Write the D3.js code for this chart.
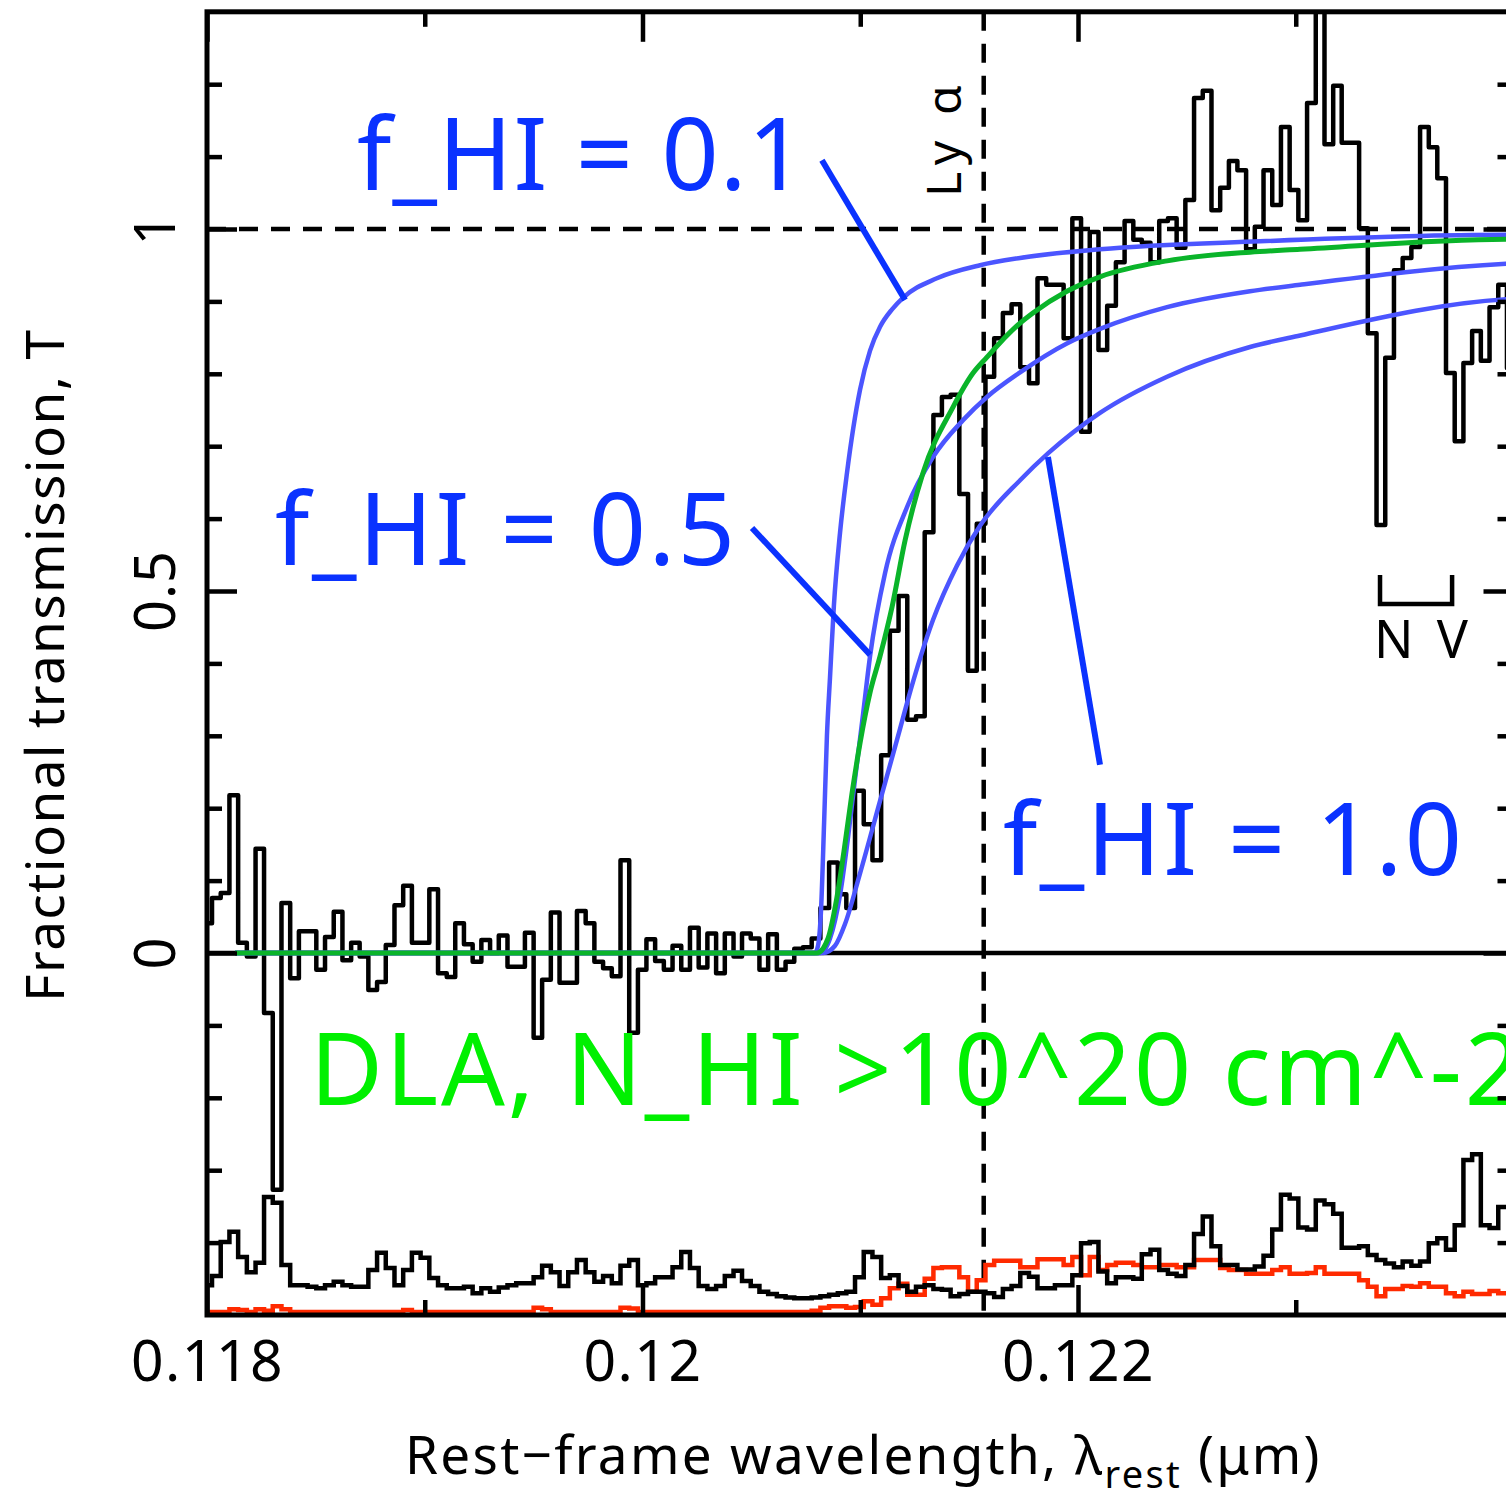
<!DOCTYPE html>
<html>
<head>
<meta charset="utf-8">
<script src="https://cdn.jsdelivr.net/npm/d3@7"></script>
<style>
html, body { margin: 0; padding: 0; background: #fff; overflow: hidden; }
svg { display: block; font-family: "Noto Sans", sans-serif; }
</style>
</head>
<body>
<svg id="chart" width="1506" height="1501"></svg>
<script>
'use strict';

// rest-frame wavelength of the spectrum bin edges, Angstrom
var binEdges = [
    1179.83, 1180.23, 1180.63, 1181.03, 1181.43, 1181.83, 1182.23, 1182.62, 1183.02, 1183.42,
    1183.82, 1184.22, 1184.62, 1185.02, 1185.42, 1185.82, 1186.22, 1186.62, 1187.01, 1187.41,
    1187.81, 1188.21, 1188.61, 1189.01, 1189.41, 1189.81, 1190.21, 1190.61, 1191.01, 1191.40,
    1191.80, 1192.20, 1192.60, 1193.00, 1193.40, 1193.80, 1194.20, 1194.60, 1195.00, 1195.39,
    1195.79, 1196.19, 1196.59, 1196.99, 1197.39, 1197.79, 1198.19, 1198.59, 1198.99, 1199.39,
    1199.79, 1200.18, 1200.58, 1200.98, 1201.38, 1201.78, 1202.18, 1202.58, 1202.98, 1203.38,
    1203.78, 1204.18, 1204.57, 1204.97, 1205.37, 1205.77, 1206.17, 1206.57, 1206.97, 1207.37,
    1207.77, 1208.17, 1208.57, 1208.97, 1209.36, 1209.76, 1210.16, 1210.56, 1210.96, 1211.36,
    1211.76, 1212.16, 1212.56, 1212.96, 1213.36, 1213.75, 1214.15, 1214.55, 1214.95, 1215.35,
    1215.75, 1216.15, 1216.55, 1216.95, 1217.35, 1217.75, 1218.14, 1218.54, 1218.94, 1219.34,
    1219.74, 1220.14, 1220.54, 1220.94, 1221.34, 1221.74, 1222.14, 1222.54, 1222.93, 1223.33,
    1223.73, 1224.13, 1224.53, 1224.93, 1225.33, 1225.73, 1226.13, 1226.53, 1226.93, 1227.32,
    1227.72, 1228.12, 1228.52, 1228.92, 1229.32, 1229.72, 1230.12, 1230.52, 1230.92, 1231.32,
    1231.72, 1232.11, 1232.51, 1232.91, 1233.31, 1233.71, 1234.11, 1234.51, 1234.91, 1235.31,
    1235.71, 1236.11, 1236.50, 1236.90, 1237.30, 1237.70, 1238.10, 1238.50, 1238.90, 1239.30,
    1239.70, 1240.10
];

// fractional transmission of the spectrum, one value per bin
var fluxT = [
    0.041, 0.076, 0.083, 0.218, 0.014, -0.005, 0.144, -0.083, -0.327, 0.069,
    -0.035, 0.030, 0.030, -0.023, 0.022, 0.057, -0.010, 0.014, -0.005, -0.051,
    -0.040, 0.011, 0.066, 0.093, 0.014, 0.014, 0.088, -0.028, -0.033, 0.041,
    0.012, -0.012, 0.018, 0.000, 0.024, -0.019, -0.019, 0.028, -0.117, -0.037,
    0.056, -0.041, -0.041, 0.058, 0.041, -0.012, -0.021, -0.032, 0.128, -0.110,
    -0.023, 0.019, -0.011, -0.023, 0.010, -0.023, 0.035, -0.020, 0.027, -0.028,
    0.027, -0.005, 0.027, 0.020, -0.023, 0.026, -0.023, -0.012, 0.006, 0.008,
    0.020, 0.062, 0.125, 0.081, 0.062, 0.224, 0.178, 0.128, 0.273, 0.445,
    0.493, 0.322, 0.327, 0.581, 0.743, 0.768, 0.771, 0.634, 0.390, 0.593,
    0.796, 0.849, 0.884, 0.896, 0.809, 0.787, 0.932, 0.923, 0.923, 0.849,
    1.015, 0.720, 0.996, 0.833, 0.894, 0.954, 1.011, 0.985, 0.981, 0.954,
    1.011, 1.015, 0.974, 1.040, 1.181, 1.191, 1.026, 1.057, 1.094, 1.081,
    0.972, 1.003, 1.081, 1.033, 1.141, 1.054, 1.012, 1.174, 1.360, 1.117,
    1.198, 1.119, 1.119, 1.001, 0.856, 0.591, 0.822, 0.943, 0.960, 0.975,
    1.141, 1.113, 1.070, 0.801, 0.707, 0.815, 0.859, 0.818, 0.892, 0.923,
    0.808
];

// noise spectrum (black, offset to the bottom of the panel)
var noiseT = [
    -0.459, -0.446, -0.399, -0.385, -0.420, -0.441, -0.428, -0.337, -0.345, -0.431,
    -0.459, -0.459, -0.461, -0.463, -0.459, -0.454, -0.459, -0.461, -0.461, -0.438,
    -0.414, -0.435, -0.459, -0.438, -0.414, -0.421, -0.449, -0.459, -0.463, -0.463,
    -0.461, -0.470, -0.463, -0.468, -0.462, -0.459, -0.456, -0.456, -0.448, -0.432,
    -0.441, -0.460, -0.441, -0.424, -0.441, -0.454, -0.446, -0.456, -0.432, -0.424,
    -0.459, -0.456, -0.448, -0.448, -0.434, -0.413, -0.435, -0.460, -0.464, -0.460,
    -0.446, -0.439, -0.453, -0.460, -0.468, -0.471, -0.474, -0.476, -0.477, -0.477,
    -0.476, -0.474, -0.472, -0.470, -0.468, -0.448, -0.413, -0.420, -0.449, -0.445,
    -0.460, -0.468, -0.461, -0.459, -0.464, -0.465, -0.474, -0.471, -0.468, -0.468,
    -0.470, -0.475, -0.464, -0.460, -0.442, -0.447, -0.463, -0.463, -0.459, -0.459,
    -0.445, -0.401, -0.399, -0.440, -0.456, -0.448, -0.448, -0.450, -0.416, -0.410,
    -0.438, -0.443, -0.446, -0.431, -0.388, -0.364, -0.405, -0.431, -0.431, -0.437,
    -0.437, -0.433, -0.418, -0.382, -0.334, -0.339, -0.379, -0.382, -0.342, -0.347,
    -0.360, -0.407, -0.407, -0.405, -0.417, -0.424, -0.429, -0.434, -0.426, -0.432,
    -0.426, -0.401, -0.394, -0.410, -0.376, -0.286, -0.278, -0.376, -0.380, -0.351,
    -0.351
];

// red spectrum at the bottom of the panel
var redT = [
    -0.496, -0.496, -0.496, -0.492, -0.493, -0.496, -0.492, -0.494, -0.488, -0.492,
    -0.496, -0.496, -0.496, -0.496, -0.496, -0.496, -0.496, -0.496, -0.496, -0.496,
    -0.496, -0.496, -0.496, -0.493, -0.496, -0.496, -0.496, -0.496, -0.496, -0.496,
    -0.496, -0.496, -0.496, -0.496, -0.496, -0.496, -0.496, -0.496, -0.490, -0.492,
    -0.496, -0.496, -0.496, -0.496, -0.496, -0.496, -0.496, -0.496, -0.490, -0.491,
    -0.496, -0.496, -0.496, -0.496, -0.496, -0.496, -0.496, -0.496, -0.496, -0.496,
    -0.496, -0.496, -0.496, -0.496, -0.496, -0.496, -0.496, -0.496, -0.496, -0.496,
    -0.494, -0.490, -0.488, -0.488, -0.490, -0.489, -0.481, -0.486, -0.477, -0.463,
    -0.457, -0.472, -0.472, -0.450, -0.435, -0.434, -0.434, -0.448, -0.468, -0.452,
    -0.431, -0.425, -0.425, -0.425, -0.434, -0.434, -0.423, -0.423, -0.423, -0.431,
    -0.420, -0.445, -0.420, -0.438, -0.431, -0.428, -0.428, -0.431, -0.434, -0.434,
    -0.431, -0.431, -0.434, -0.434, -0.424, -0.424, -0.424, -0.435, -0.438, -0.438,
    -0.443, -0.443, -0.443, -0.438, -0.434, -0.443, -0.443, -0.442, -0.434, -0.443,
    -0.443, -0.443, -0.443, -0.452, -0.461, -0.474, -0.464, -0.464, -0.460, -0.461,
    -0.456, -0.461, -0.461, -0.470, -0.474, -0.468, -0.471, -0.471, -0.467, -0.470,
    -0.470
];

// model transmission curves, [wavelength (A), T]
var modelF01 = [
    [1181.29, 0], [1207.92, 0], [1208.06, 0.01], [1208.20, 0.06], [1208.34, 0.18],
    [1208.47, 0.30], [1208.61, 0.38], [1208.79, 0.48], [1209.07, 0.58], [1209.39, 0.663],
    [1209.99, 0.778], [1210.45, 0.832], [1210.91, 0.865], [1211.46, 0.889], [1211.96, 0.905],
    [1213.52, 0.932], [1215.50, 0.950], [1217.34, 0.960], [1221.01, 0.972], [1228.36, 0.983],
    [1239.66, 0.992], [1240.30, 0.992]
];
var modelF05 = [
    [1181.29, 0], [1208.15, 0], [1208.61, 0.02], [1209.07, 0.08], [1209.44, 0.16],
    [1209.76, 0.24], [1210.13, 0.33], [1210.45, 0.41], [1211.14, 0.525], [1212.15, 0.616],
    [1213.34, 0.685], [1214.72, 0.736], [1215.82, 0.768], [1217.34, 0.802], [1219.49, 0.842],
    [1221.01, 0.862], [1224.09, 0.892], [1227.90, 0.914], [1230.20, 0.923], [1239.66, 0.952],
    [1240.30, 0.953]
];
var modelF10 = [
    [1181.29, 0], [1208.29, 0], [1208.84, 0.01], [1209.30, 0.04], [1209.99, 0.11],
    [1210.91, 0.21], [1211.83, 0.31], [1212.19, 0.35], [1213.34, 0.46], [1214.44, 0.535],
    [1215.50, 0.59], [1217.34, 0.653], [1218.62, 0.69], [1221.01, 0.746], [1224.09, 0.796],
    [1227.90, 0.837], [1230.20, 0.853], [1239.66, 0.903], [1240.30, 0.904]
];
var modelDLA = [
    [1181.29, 0], [1208.01, 0], [1208.52, 0.02], [1208.89, 0.07], [1209.25, 0.14],
    [1209.62, 0.22], [1209.99, 0.29], [1210.45, 0.36], [1210.91, 0.41], [1211.46, 0.478],
    [1212.06, 0.57], [1212.88, 0.663], [1214.26, 0.754], [1215.18, 0.801], [1215.82, 0.823],
    [1216.42, 0.843], [1217.34, 0.870], [1217.93, 0.884], [1219.49, 0.914], [1221.01, 0.934],
    [1224.09, 0.956], [1227.90, 0.968], [1230.20, 0.972], [1239.66, 0.986], [1240.30, 0.986]
];

// pointer lines from the labels to the curves, [wavelength (A), T]
var pointer01 = [[1208.24, 1.095], [1212.06, 0.902]];
var pointer05 = [[1205.03, 0.587], [1210.45, 0.412]];
var pointer10 = [[1218.62, 0.685], [1221.01, 0.260]];
// N V bracket
var nvBracket = [[1233.87, 0.522], [1233.87, 0.482], [1237.18, 0.482], [1237.18, 0.522]];

var lyaWave = 1215.67;
var xTicksMajor = [0.118, 0.12, 0.122];
var xTicksMinor = [0.119, 0.121, 0.123];
var yTicksMajor = [0, 0.5, 1];
var yTicksMinor = [-0.4, -0.3, -0.2, -0.1, 0.1, 0.2, 0.3, 0.4, 0.6, 0.7, 0.8, 0.9, 1.1, 1.2];
var yTickLabels = ['0', '0.5', '1'];

var blueCurve = '#4b55ff';
var blueText = '#0a32ff';
var greenCurve = '#0ab42a';
var greenText = '#00f000';
var redLine = '#ff2a00';

var svg = d3.select('#chart');
var plotL = 207, plotR = 1513.5, plotT = 11.8, plotB = 1315;

var x = d3.scaleLinear().domain([0.118, 0.124]).range([plotL, plotR]);
var y = d3.scaleLinear().domain([-0.5, 1.3]).range([plotB, plotT]);
var toMicron = function(a) { return a / 1e4; };

svg.append('defs').append('clipPath').attr('id', 'plotclip')
    .append('rect')
    .attr('x', plotL).attr('y', plotT)
    .attr('width', plotR - plotL).attr('height', plotB - plotT);

var plot = svg.append('g').attr('clip-path', 'url(#plotclip)');

// reference lines
plot.append('line')
    .attr('x1', plotL).attr('x2', plotR)
    .attr('y1', y(0)).attr('y2', y(0))
    .attr('stroke', '#000').attr('stroke-width', 4.5);

plot.append('line')
    .attr('x1', plotL).attr('x2', plotR)
    .attr('y1', y(1)).attr('y2', y(1))
    .attr('stroke', '#000').attr('stroke-width', 4.5)
    .attr('stroke-dasharray', '19,13');

plot.append('line')
    .attr('x1', x(toMicron(lyaWave))).attr('x2', x(toMicron(lyaWave)))
    .attr('y1', plotT).attr('y2', plotB)
    .attr('stroke', '#000').attr('stroke-width', 4.5)
    .attr('stroke-dasharray', '19,13');

// histogram-style spectra
var stepLine = d3.line()
    .x(function(d) { return x(toMicron(d[0])); })
    .y(function(d) { return y(d[1]); })
    .curve(d3.curveStepAfter);

function binPoints(vals) {
    return binEdges.map(function(e, i) {
        return [e, vals[Math.min(i, vals.length - 1)]];
    });
}

plot.append('path')
    .attr('d', stepLine(binPoints(redT)))
    .attr('fill', 'none').attr('stroke', redLine).attr('stroke-width', 4.5);

plot.append('path')
    .attr('d', stepLine(binPoints(noiseT)))
    .attr('fill', 'none').attr('stroke', '#000').attr('stroke-width', 4.5);

plot.append('path')
    .attr('d', stepLine(binPoints(fluxT)))
    .attr('fill', 'none').attr('stroke', '#000').attr('stroke-width', 4.5)
    .attr('stroke-linejoin', 'round');

// model curves
var smooth = d3.line()
    .x(function(d) { return x(toMicron(d[0])); })
    .y(function(d) { return y(d[1]); })
    .curve(d3.curveMonotoneX);

[modelF01, modelF05, modelF10].forEach(function(m) {
    plot.append('path')
        .attr('d', smooth(m))
        .attr('fill', 'none').attr('stroke', blueCurve).attr('stroke-width', 4.5);
});

plot.append('path')
    .attr('d', smooth(modelDLA))
    .attr('fill', 'none').attr('stroke', greenCurve).attr('stroke-width', 5);

var straight = d3.line()
    .x(function(d) { return x(toMicron(d[0])); })
    .y(function(d) { return y(d[1]); });

[pointer01, pointer05, pointer10].forEach(function(p) {
    plot.append('path')
        .attr('d', straight(p))
        .attr('fill', 'none').attr('stroke', blueText).attr('stroke-width', 6);
});

plot.append('path')
    .attr('d', straight(nvBracket))
    .attr('fill', 'none').attr('stroke', '#000').attr('stroke-width', 4.5);

// text labels
var bigLabels = [
    { t: 'f_HI = 0.1', x: 357, y: 190, w: 448 },
    { t: 'f_HI = 0.5', x: 275, y: 565, w: 460 },
    { t: 'f_HI = 1.0', x: 1003, y: 875, w: 459 }
];
bigLabels.forEach(function(l) {
    svg.append('text')
        .attr('x', l.x).attr('y', l.y)
        .attr('font-size', 100)
        .attr('textLength', l.w).attr('lengthAdjust', 'spacing')
        .attr('fill', blueText)
        .text(l.t);
});

svg.append('text')
    .attr('x', 310).attr('y', 1105)
    .attr('font-size', 100)
    .attr('textLength', 1212).attr('lengthAdjust', 'spacing')
    .attr('fill', greenText)
    .text('DLA, N_HI >10^20 cm^-2');

svg.append('text')
    .attr('transform', 'translate(961,197) rotate(-90)')
    .attr('font-size', 48)
    .attr('textLength', 112).attr('lengthAdjust', 'spacing')
    .text('Ly \u03b1');

svg.append('text')
    .attr('x', 1374).attr('y', 658)
    .attr('font-size', 52)
    .attr('textLength', 94).attr('lengthAdjust', 'spacing')
    .text('N V');

// frame and ticks
svg.append('rect')
    .attr('x', plotL).attr('y', plotT)
    .attr('width', plotR - plotL).attr('height', plotB - plotT)
    .attr('fill', 'none').attr('stroke', '#000').attr('stroke-width', 5);

function styleAxis(g) {
    g.select('.domain').remove();
    g.selectAll('.tick line').attr('stroke', '#000').attr('stroke-width', 4.5);
    g.selectAll('.tick text').attr('fill', '#000');
}

svg.append('g').attr('transform', 'translate(0,' + plotB + ')')
    .call(d3.axisBottom(x).tickValues(xTicksMajor).tickSizeInner(-30).tickSizeOuter(0)
        .tickPadding(26).tickFormat(d3.format('~g')))
    .call(styleAxis)
    .selectAll('text')
    .attr('font-size', 57)
    .attr('font-family', '"Noto Sans", sans-serif')
    .attr('letter-spacing', 1.5);

svg.append('g').attr('transform', 'translate(0,' + plotB + ')')
    .call(d3.axisBottom(x).tickValues(xTicksMinor).tickSizeInner(-15).tickSizeOuter(0).tickFormat(''))
    .call(styleAxis);

svg.append('g').attr('transform', 'translate(0,' + plotT + ')')
    .call(d3.axisTop(x).tickValues(xTicksMajor).tickSizeInner(-30).tickSizeOuter(0).tickFormat(''))
    .call(styleAxis);

svg.append('g').attr('transform', 'translate(0,' + plotT + ')')
    .call(d3.axisTop(x).tickValues(xTicksMinor).tickSizeInner(-15).tickSizeOuter(0).tickFormat(''))
    .call(styleAxis);

svg.append('g').attr('transform', 'translate(' + plotL + ',0)')
    .call(d3.axisLeft(y).tickValues(yTicksMajor).tickSizeInner(-30).tickSizeOuter(0).tickFormat(''))
    .call(styleAxis);

svg.append('g').attr('transform', 'translate(' + plotL + ',0)')
    .call(d3.axisLeft(y).tickValues(yTicksMinor).tickSizeInner(-15).tickSizeOuter(0).tickFormat(''))
    .call(styleAxis);

svg.append('g').attr('transform', 'translate(' + plotR + ',0)')
    .call(d3.axisRight(y).tickValues(yTicksMajor).tickSizeInner(-30).tickSizeOuter(0).tickFormat(''))
    .call(styleAxis);

svg.append('g').attr('transform', 'translate(' + plotR + ',0)')
    .call(d3.axisRight(y).tickValues(yTicksMinor).tickSizeInner(-16).tickSizeOuter(0).tickFormat(''))
    .call(styleAxis);

// rotated y tick labels
svg.append('g').selectAll('text')
    .data(yTicksMajor)
    .enter().append('text')
    .attr('transform', function(d) { return 'translate(175,' + y(d) + ') rotate(-90)'; })
    .attr('text-anchor', 'middle')
    .attr('font-size', 56)
    .attr('letter-spacing', 1)
    .text(function(d, i) { return yTickLabels[i]; });

// axis titles
var xt = svg.append('text')
    .attr('x', 405).attr('y', 1474)
    .attr('font-size', 53)
    .attr('letter-spacing', 2.3);
xt.append('tspan').text('Rest\u2212frame wavelength, \u03bb');
xt.append('tspan').attr('font-size', 38).attr('dy', 14).text('rest');
xt.append('tspan').attr('dy', -14).text(' (\u03bcm)');

svg.append('text')
    .attr('transform', 'translate(64,666) rotate(-90)')
    .attr('text-anchor', 'middle')
    .attr('font-size', 53)
    .attr('textLength', 672).attr('lengthAdjust', 'spacing')
    .text('Fractional transmission, T');
</script>
</body>
</html>
